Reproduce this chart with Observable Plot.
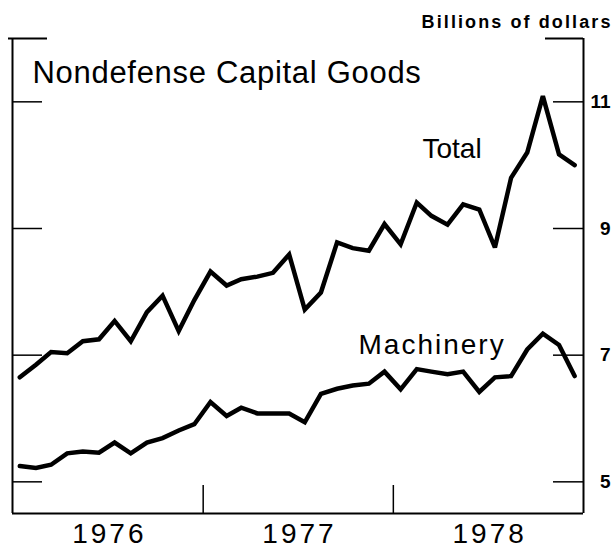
<!DOCTYPE html>
<html><head><meta charset="utf-8">
<script src="https://cdn.jsdelivr.net/npm/d3@7"></script>
<script src="https://cdn.jsdelivr.net/npm/@observablehq/plot@0.6"></script>
<style>body{margin:0;background:#fff;} svg{display:block}</style>
</head><body><div id="chart"></div>
<script>
// Monthly data, Jan 1976 – Dec 1978, billions of dollars
const months = d3.range(36).map(i => new Date(Date.UTC(1976, i, 15)));
const total = [6.65, 6.85, 7.05, 7.03, 7.22, 7.25, 7.54, 7.22, 7.68, 7.94, 7.38, 7.87,
               8.32, 8.10, 8.20, 8.24, 8.30, 8.59, 7.72, 7.99, 8.78, 8.69, 8.65, 9.07,
               8.75, 9.41, 9.20, 9.06, 9.38, 9.30, 8.70, 9.80, 10.20, 11.09, 10.17, 10.00];
const machinery = [5.25, 5.22, 5.27, 5.45, 5.48, 5.46, 5.62, 5.45, 5.62, 5.69, 5.81, 5.91,
                   6.26, 6.04, 6.17, 6.08, 6.08, 6.08, 5.94, 6.39, 6.47, 6.52, 6.55, 6.74,
                   6.46, 6.78, 6.74, 6.70, 6.74, 6.42, 6.65, 6.67, 7.09, 7.34, 7.16, 6.67];
const years = [1976, 1977, 1978];
const yTicks = [5, 7, 9, 11];
const yTop = [12];
const title = "Nondefense Capital Goods";
const unitLabel = "Billions of dollars";

const W = 613, H = 553, mL = 12, mR = 30, mT = 38, mB = 40;
const innerW = W - mL - mR, innerH = H - mT - mB;
const xDomain = [new Date(Date.UTC(1976, 0, 1)), new Date(Date.UTC(1979, 0, 1))];
const yDomain = [4.5, 12];
const yearBounds = years.slice(1).map(y => new Date(Date.UTC(y, 0, 1)));

const rows = months.flatMap((m, i) => [
  {date: m, value: total[i], series: "Total"},
  {date: m, value: machinery[i], series: "Machinery"}
]);

const font = "'Liberation Sans', Arial, Helvetica, sans-serif";

const chart = Plot.plot({
  width: W, height: H,
  marginLeft: mL, marginRight: mR, marginTop: mT, marginBottom: mB,
  style: {fontFamily: font, background: "#fff", color: "#000"},
  x: {type: "utc", domain: xDomain, axis: null},
  y: {domain: yDomain, label: null},
  marks: [
    Plot.tickY(yTicks, {y: d => d, insetRight: innerW - 30, stroke: "#000", strokeWidth: 1.5}),
    Plot.tickY(yTicks, {y: d => d, insetLeft: innerW - 30, stroke: "#000", strokeWidth: 1.5}),
    Plot.tickY(yTop, {y: d => d, insetLeft: -4, insetRight: innerW - 35, stroke: "#000", strokeWidth: 2}),
    Plot.tickY(yTop, {y: d => d, insetLeft: innerW - 38, stroke: "#000", strokeWidth: 2}),
    Plot.ruleX(xDomain, {stroke: "#000", strokeWidth: 2}),
    Plot.ruleY([yDomain[0]], {stroke: "#000", strokeWidth: 2}),
    Plot.tickX(yearBounds, {x: d => d, insetTop: innerH - 28, stroke: "#000", strokeWidth: 1.5}),
    Plot.line(rows, {x: "date", y: "value", z: "series", stroke: "#000", strokeWidth: 4.5, strokeLinejoin: "miter", strokeMiterlimit: 3}),
    Plot.axisY({anchor: "right", ticks: yTicks, tickSize: 0, tickPadding: 27, textAnchor: "end", label: null,
                fontSize: 19, fontWeight: "bold", tickFormat: d => String(d)}),
    Plot.text(years, {x: d => new Date(Date.UTC(d, 6, 2)), text: d => String(d), frameAnchor: "bottom",
                      dy: 21, dx: 1.5, fontSize: 28, lineAnchor: "middle", fill: "#000"}),
    Plot.text([title], {frameAnchor: "top-left", dx: 20, dy: 44, textAnchor: "start", lineAnchor: "bottom",
                        fontSize: 31, fill: "#000"}),
    Plot.text([unitLabel], {frameAnchor: "top-right", dx: 29, dy: -11, textAnchor: "end", lineAnchor: "bottom",
                            fontSize: 18, fontWeight: "bold", fill: "#000"}),
    Plot.text(["Total"], {frameAnchor: "top-left", dx: 410, dy: 119, textAnchor: "start", lineAnchor: "bottom",
                          fontSize: 28, fill: "#000"}),
    Plot.text(["Machinery"], {frameAnchor: "top-left", dx: 346, dy: 315, textAnchor: "start", lineAnchor: "bottom",
                              fontSize: 28, fill: "#000"})
  ]
});

const spacing = {"Machinery": "2px", "Billions of dollars": "2.1px", "Nondefense Capital Goods": "0.7px",
                 "1976": "3px", "1977": "3px", "1978": "3px"};
const boldTexts = new Set(["Billions of dollars", "5", "7", "9", "11"]);
d3.select(chart).selectAll("text").each(function() {
  const t = this.textContent;
  if (spacing[t]) this.style.letterSpacing = spacing[t];
  if (boldTexts.has(t)) this.style.fontWeight = "700";
  if (t === "Billions of dollars") this.style.fontSize = "18px";
  if (["5", "7", "9", "11"].includes(t)) this.style.fontSize = "19px";
});
document.getElementById("chart").appendChild(chart);
</script>
</body></html>
